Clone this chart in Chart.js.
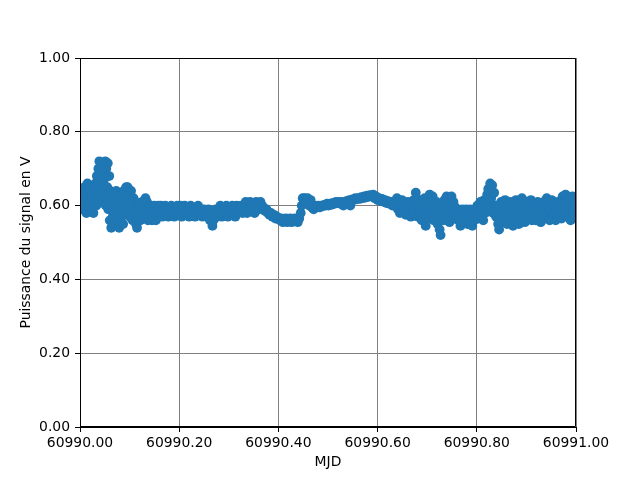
<!DOCTYPE html>
<html>
<head>
<meta charset="utf-8">
<script src="https://cdn.jsdelivr.net/npm/chart.js@4/dist/chart.umd.min.js"></script>
<style>
html,body{margin:0;padding:0;background:#fff;}
#wrap{width:640px;height:480px;}
</style>
</head>
<body>
<div id="wrap"><canvas id="c" width="640" height="480"></canvas></div>
<script>
// MJD base day; offsets (fraction of day)
const mjdBase = 60990;

const offStart = [0.000,0.001,0.003,0.004,0.006,0.007,0.009,0.010,0.012,0.013,0.015,0.016,0.018,0.019,0.021,0.022,0.024,0.025,0.027,0.028,0.030];
const voltStart = [0.60,0.63,0.62,0.59,0.64,0.61,0.65,0.60,0.63,0.58,0.66,0.62,0.60,0.64,0.61,0.65,0.59,0.63,0.58,0.62,0.64];

const offSpike = [0.031,0.033,0.034,0.036,0.037,0.038,0.039,0.040,0.041,0.042,0.043,0.044,0.045,0.046,0.047,0.048,0.049,0.050,0.051,0.052,0.053,0.054,0.055,0.056,0.057,0.058,0.059];
const voltSpike = [0.66,0.60,0.68,0.62,0.70,0.66,0.72,0.65,0.69,0.71,0.68,0.70,0.63,0.61,0.66,0.67,0.64,0.69,0.72,0.60,0.70,0.62,0.65,0.715,0.59,0.63,0.68];

const offEarly = [0.060,0.061,0.063,0.064,0.066,0.067,0.069,0.070,0.072,0.073,0.075,0.076,0.078,0.079,0.081,0.082,0.084,0.085,0.087,0.088,0.090,0.091,0.093,0.094,
  0.096,0.098,0.100,0.101,0.103,0.105,0.106,0.108,0.110,0.112,0.113,0.115,0.117,0.118,0.120,0.122,0.123,0.125,0.127,0.128,
  0.130,0.132,0.133,0.135,0.137,0.138,0.140,0.142,0.143,0.145,0.147,0.148,0.150,0.152,0.153,0.155,0.157,0.158];
const voltEarly = [0.56,0.64,0.54,0.60,0.57,0.63,0.55,0.61,0.58,0.64,0.56,0.60,0.62,0.54,0.59,0.63,0.57,0.61,0.55,0.64,0.60,0.58,0.65,0.62,
  0.65,0.59,0.63,0.57,0.64,0.60,0.56,0.62,0.58,0.61,0.55,0.54,0.59,0.57,0.60,0.56,0.58,0.61,0.57,0.59,
  0.60,0.62,0.58,0.61,0.56,0.59,0.57,0.60,0.58,0.56,0.59,0.57,0.60,0.58,0.56,0.59,0.57,0.60];

const offFlat = [0.160,0.163,0.166,0.169,0.172,0.175,0.178,0.181,0.184,0.187,
  0.190,0.193,0.196,0.199,0.202,0.205,0.208,0.211,0.214,0.217,
  0.220,0.223,0.226,0.229,0.232,0.235,0.238,0.241,0.244,0.247,
  0.250,0.253,0.256,0.259,0.262,0.265,0.267,0.269,0.271,0.274,
  0.277,0.280,0.283,0.286,0.289,0.292,0.295,0.298,0.301,0.304,
  0.307,0.310,0.313,0.316,0.319,0.322,0.325,0.328,
  0.331,0.334,0.337,0.340,0.343,0.346,0.349,0.352,0.355,0.358,0.361,0.364,0.367];
const voltFlat = [0.58,0.60,0.57,0.59,0.60,0.58,0.57,0.59,0.60,0.58,
  0.57,0.59,0.60,0.58,0.60,0.57,0.59,0.60,0.58,0.59,
  0.57,0.60,0.58,0.59,0.57,0.59,0.60,0.58,0.59,0.57,
  0.59,0.58,0.57,0.59,0.56,0.58,0.545,0.56,0.58,0.59,
  0.57,0.58,0.60,0.57,0.59,0.58,0.60,0.57,0.59,0.58,
  0.60,0.59,0.57,0.60,0.58,0.59,0.60,0.58,
  0.59,0.61,0.58,0.60,0.61,0.59,0.60,0.58,0.61,0.60,0.59,0.61,0.60];

const offDip = [0.370,0.373,0.376,0.379,0.382,0.385,0.388,0.391,0.394,0.397,0.400,0.403,0.406,0.409,0.412,0.415,0.418,0.421,0.424,0.427,0.430,0.433,0.436,0.439,0.442,
  0.445,0.447,0.449,0.451,0.453,0.456,0.459,0.462,0.465,0.468,0.471,0.474];
const voltDip = [0.595,0.585,0.59,0.58,0.575,0.58,0.57,0.575,0.565,0.57,0.565,0.56,0.565,0.555,0.56,0.565,0.555,0.56,0.565,0.555,0.56,0.565,0.56,0.555,0.565,
  0.58,0.60,0.62,0.615,0.62,0.61,0.62,0.60,0.615,0.595,0.59,0.60];

const offRise = [0.477,0.480,0.483,0.486,0.489,0.492,0.495,0.498,0.501,0.504,
  0.507,0.510,0.513,0.516,0.519,0.522,0.525,0.528,0.531,0.534,
  0.537,0.540,0.543,0.545,0.546,0.549,0.552,0.555,0.558,0.561,
  0.564,0.567,0.570,0.573,0.576,0.579,0.582,0.585,0.588,
  0.591,0.594,0.597,0.600,0.603,0.606,0.609,0.612,0.615,0.618,0.621,0.624,0.627,0.630,0.633,0.636];
const voltRise = [0.595,0.60,0.595,0.60,0.598,0.602,0.60,0.605,0.60,0.605,
  0.602,0.607,0.605,0.61,0.607,0.61,0.605,0.61,0.60,0.608,
  0.612,0.61,0.615,0.60,0.612,0.617,0.615,0.62,0.617,0.62,
  0.618,0.623,0.62,0.625,0.622,0.627,0.624,0.628,0.625,
  0.63,0.62,0.625,0.615,0.62,0.612,0.618,0.61,0.615,0.607,0.612,0.605,0.61,0.60,0.607,0.60];

const offNoisy = [0.639,0.641,0.643,0.645,0.647,0.649,0.651,0.653,0.655,0.657,0.659,0.661,0.663,0.665,0.667,
  0.669,0.671,0.673,0.675,0.677,0.679,0.681,0.683,0.685,0.687,0.689,0.691,0.693,0.695,0.697,0.699,0.701,0.703,0.705,0.707,0.709,0.711,0.713,0.715,0.717,0.719,
  0.721,0.723,0.725,0.727,0.729,0.731,0.733,0.735,0.737,0.739,0.741,0.743,0.745,0.747,0.749,0.751,0.753,0.755,0.757,0.759,
  0.761,0.763,0.765,0.767,0.769,0.771,0.773,0.775,0.777,0.779,0.781,0.783,0.785,0.787,0.789,0.791,0.793,0.795,0.797,0.799];
const voltNoisy = [0.62,0.59,0.61,0.58,0.60,0.615,0.585,0.605,0.59,0.575,0.60,0.61,0.58,0.595,0.57,
  0.60,0.58,0.615,0.59,0.635,0.62,0.57,0.60,0.58,0.61,0.56,0.595,0.575,0.62,0.545,0.585,0.60,0.565,0.63,0.61,0.58,0.625,0.56,0.60,0.57,0.61,
  0.55,0.59,0.535,0.52,0.575,0.60,0.56,0.615,0.585,0.625,0.57,0.60,0.555,0.59,0.625,0.58,0.61,0.565,0.595,0.575,
  0.59,0.56,0.58,0.545,0.57,0.59,0.555,0.58,0.565,0.59,0.55,0.575,0.56,0.59,0.57,0.545,0.58,0.56,0.59,0.57];

const offLate = [0.801,0.803,0.805,0.807,0.809,0.811,0.813,0.815,0.817,0.819,0.821,0.823,0.825,0.827,0.829,0.831,0.833,0.835,0.837,0.839,0.841,0.843,0.845,0.847,0.849,0.851,
  0.853,0.855,0.857,0.859,0.861,0.863,0.865,0.867,0.869,0.871,
  0.873,0.875,0.877,0.879,0.881,0.883,0.885,0.887,0.889,0.891,
  0.893,0.895,0.897,0.899,0.901,0.903,0.905,0.907,0.909,0.911,
  0.913,0.915,0.917,0.919,0.921,0.923,0.925,0.927,0.929,0.931,
  0.933,0.935,0.937,0.939,0.941,0.943,0.945,0.947,0.949,0.951,
  0.953,0.955,0.957,0.959,0.961,0.963,0.965,0.967,0.969,0.971,
  0.973,0.975,0.977,0.979,0.981,0.983,0.985,0.987,0.989,0.991,
  0.993,0.995,0.997,0.999];
const voltLate = [0.60,0.565,0.585,0.61,0.57,0.595,0.56,0.615,0.58,0.60,0.63,0.645,0.60,0.66,0.62,0.655,0.58,0.635,0.60,0.57,0.59,0.55,0.535,0.575,0.61,0.555,
  0.60,0.57,0.615,0.585,0.55,0.60,0.575,0.61,0.56,0.59,
  0.545,0.605,0.58,0.615,0.565,0.595,0.55,0.61,0.58,0.62,
  0.57,0.60,0.555,0.59,0.61,0.565,0.60,0.58,0.615,0.56,
  0.59,0.57,0.605,0.56,0.585,0.61,0.57,0.595,0.555,0.60,
  0.58,0.61,0.565,0.59,0.62,0.575,0.60,0.56,0.59,0.615,
  0.57,0.60,0.58,0.56,0.595,0.61,0.57,0.59,0.605,0.565,
  0.625,0.60,0.58,0.63,0.61,0.57,0.62,0.59,0.56,0.61,
  0.625,0.58,0.60,0.565];

const xTickValues = [60990.0, 60990.2, 60990.4, 60990.6, 60990.8, 60991.0];
const yTickValues = [0.0, 0.2, 0.4, 0.6, 0.8, 1.0];

const offsets = [].concat(offStart, offSpike, offEarly, offFlat, offDip, offRise, offNoisy, offLate);
const volts = [].concat(voltStart, voltSpike, voltEarly, voltFlat, voltDip, voltRise, voltNoisy, voltLate);
const points = offsets.map((o, i) => ({ x: mjdBase + o, y: volts[i] }));

const FONT = { family: 'DejaVu Sans', size: 13.9 };

const framePlugin = {
  id: 'frame',
  afterDraw(chart) {
    const a = chart.chartArea;
    const ctx = chart.ctx;
    ctx.save();
    ctx.strokeStyle = '#000';
    ctx.lineWidth = 1;
    const l = Math.round(a.left) + 0.5, r = Math.round(a.right) - 0.5;
    const t = Math.round(a.top) + 0.5, b = Math.round(a.bottom) - 0.5;
    ctx.beginPath();
    ctx.moveTo(l, t); ctx.lineTo(r, t); ctx.lineTo(r, b); ctx.lineTo(l, b); ctx.closePath();
    ctx.stroke();
    ctx.restore();
  }
};

new Chart(document.getElementById('c'), {
  type: 'scatter',
  data: {
    datasets: [{
      data: points,
      backgroundColor: '#1f77b4',
      borderColor: '#1f77b4',
      borderWidth: 0,
      pointRadius: 4.9,
      pointHoverRadius: 4.9,
      clip: 0
    }]
  },
  options: {
    responsive: false,
    animation: false,
    events: [],
    layout: { padding: { top: 58, right: 64, left: 0, bottom: 0 } },
    plugins: { legend: { display: false }, tooltip: { enabled: false } },
    scales: {
      x: {
        type: 'linear',
        min: 60990, max: 60991,
        afterFit(s) { s.height = 53; },
        afterBuildTicks(s) { s.ticks = xTickValues.map(v => ({ value: v })); },
        ticks: {
          color: '#000', font: FONT, padding: 3, maxRotation: 0, autoSkip: false,
          callback: v => Number(v).toFixed(2)
        },
        grid: { color: '#808080', lineWidth: 1, tickColor: '#000', tickLength: 5 },
        border: { color: '#000', width: 1 },
        title: { display: true, text: 'MJD', color: '#000', font: FONT, padding: { top: 0, bottom: 9 } }
      },
      y: {
        type: 'linear',
        min: 0, max: 1,
        afterFit(s) { s.width = 80; },
        afterBuildTicks(s) { s.ticks = yTickValues.map(v => ({ value: v })); },
        ticks: {
          color: '#000', font: FONT, padding: 5, autoSkip: false,
          callback: v => Number(v).toFixed(2)
        },
        grid: { color: '#808080', lineWidth: 1, tickColor: '#000', tickLength: 5 },
        border: { color: '#000', width: 1 },
        title: { display: true, text: 'Puissance du signal en V', color: '#000', font: FONT, padding: { top: 18, bottom: 0 } }
      }
    }
  },
  plugins: [framePlugin]
});
</script>
</body>
</html>
